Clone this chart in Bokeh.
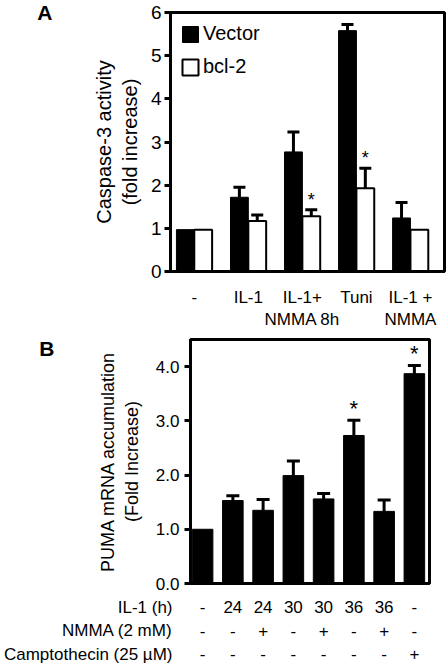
from bokeh.plotting import figure
from bokeh.layouts import column
from bokeh.models import (ColumnDataSource, Whisker, TeeHead, FixedTicker,
                          Legend, LegendItem, LinearAxis, Range1d)
from bokeh.embed import file_html
from bokeh.resources import INLINE
from bokeh.core.properties import value

FONT = "Liberation Sans"

# ---------------- Panel A data ----------------
groups_a = ["-", "IL-1", "IL-1+\nNMMA 8h", "Tuni", "IL-1 +\nNMMA"]
vector_mean = [0.97, 1.72, 2.77, 5.58, 1.24]
vector_err = [0.0, 0.23, 0.46, 0.14, 0.36]
bcl2_mean = [0.97, 1.17, 1.28, 1.93, 0.97]
bcl2_err = [0.0, 0.14, 0.15, 0.46, 0.0]
bcl2_sig = [False, False, True, True, False]
yticks_a = [0, 1, 2, 3, 4, 5, 6]

# ---------------- Panel B data ----------------
il1_row = ["-", "24", "24", "30", "30", "36", "36", "-"]
nmma_row = ["-", "-", "+", "-", "+", "-", "+", "-"]
campto_row = ["-", "-", "-", "-", "-", "-", "-", "+"]
row_titles = ["IL-1 (h)", "NMMA (2 mM)", "Camptothecin (25 \u00b5M)"]
puma_mean = [1.00, 1.53, 1.35, 1.99, 1.56, 2.73, 1.33, 3.87]
puma_err = [0.0, 0.09, 0.20, 0.27, 0.10, 0.28, 0.21, 0.15]
puma_sig = [False, False, False, False, False, True, False, True]
yticks_b = [0, 1, 2, 3, 4]

W = 448


def style_common(p):
    p.xgrid.visible = False
    p.ygrid.visible = False
    p.outline_line_color = "black"
    p.outline_line_width = 3
    p.outline_line_alpha = 1
    p.background_fill_color = "white"
    p.border_fill_color = "white"
    for ax in p.axis:
        ax.axis_line_color = "black"
        ax.axis_line_width = 3
        ax.minor_tick_line_color = None
        ax.major_label_text_font = FONT
        ax.axis_label_text_font = FONT
        ax.axis_label_text_font_style = "normal"
        ax.major_label_text_color = "black"
        ax.axis_label_text_color = "black"


def add_panel_letter(p, letter, standoff):
    p.extra_y_ranges = {"panel": Range1d(0, 1)}
    ax = LinearAxis(y_range_name="panel", ticker=FixedTicker(ticks=[1]),
                    major_label_overrides={1: letter},
                    axis_line_color=None, major_tick_line_color=None,
                    minor_tick_line_color=None,
                    major_label_text_font=FONT,
                    major_label_text_font_style="bold",
                    major_label_text_font_size="21px",
                    major_label_text_color="black",
                    major_label_standoff=standoff)
    p.add_layout(ax, "left")


def add_errors(p, xs, means, errs, size):
    keep = [i for i in range(len(xs)) if errs[i] > 0]
    src = ColumnDataSource(dict(
        base=[xs[i] for i in keep],
        lower=[means[i] for i in keep],
        upper=[means[i] + errs[i] for i in keep],
    ))
    w = Whisker(source=src, base="base", lower="lower", upper="upper",
                line_color="black", line_width=3,
                upper_head=TeeHead(size=size, line_width=3, line_color="black"),
                lower_head=None)
    p.add_layout(w)


def add_stars(p, xs, means, errs, sig, size, lift):
    keep = [i for i in range(len(xs)) if sig[i]]
    p.text(x=[xs[i] for i in keep], y=[means[i] + errs[i] for i in keep],
           text=["*"] * len(keep), text_align="center",
           text_baseline="middle", y_offset=-lift, text_font=value(FONT),
           text_font_size=size, text_color="black")


# ================= Panel A =================
xa = list(range(len(groups_a)))
half = 0.165
x_vec = [x - half for x in xa]
x_bcl = [x + half for x in xa]

p_a = figure(width=W, height=332, x_range=(-0.44, 4.63), y_range=(0, 6),
             output_backend="svg", toolbar_location=None,
             min_border_left=170, min_border_right=4,
             min_border_top=12, min_border_bottom=61)

r_vec = p_a.vbar(x=x_vec, top=vector_mean, width=2 * half, bottom=0,
                 fill_color="black", line_color="black", line_width=1)
r_bcl = p_a.vbar(x=x_bcl, top=bcl2_mean, width=2 * half, bottom=0,
                 fill_color="white", line_color="black", line_width=2)
add_errors(p_a, x_vec, vector_mean, vector_err, 12)
add_errors(p_a, x_bcl, bcl2_mean, bcl2_err, 12)
add_stars(p_a, x_bcl, bcl2_mean, bcl2_err, bcl2_sig, "18px", 10)

style_common(p_a)
p_a.xaxis.ticker = FixedTicker(ticks=xa)
p_a.xaxis.major_label_overrides = {i: g for i, g in enumerate(groups_a)}
p_a.xaxis.major_tick_line_color = None
p_a.xaxis.major_label_text_font_size = "17px"
p_a.xaxis.major_label_standoff = 10

p_a.yaxis.ticker = FixedTicker(ticks=yticks_a)
p_a.yaxis.major_tick_in = 0
p_a.yaxis.major_tick_out = 6
p_a.yaxis.major_tick_line_width = 3
p_a.yaxis.major_label_text_font_size = "19px"
p_a.yaxis.major_label_standoff = 3
p_a.yaxis.axis_label = "Caspase-3 activity\n(fold increase)"
p_a.yaxis.axis_label_text_font_size = "20px"
p_a.yaxis.axis_label_standoff = 7
add_panel_letter(p_a, "A", 31)

legend = Legend(items=[LegendItem(label="Vector", renderers=[r_vec]),
                       LegendItem(label="bcl-2", renderers=[r_bcl])],
                location="top_left", border_line_color=None,
                background_fill_alpha=0, margin=10, padding=4,
                glyph_width=20, glyph_height=20, label_standoff=3,
                spacing=10, label_text_font=FONT,
                label_text_font_size="20px", label_text_color="black")
p_a.add_layout(legend)

# ================= Panel B =================
xb = list(range(len(puma_mean)))
B_LEFT, B_RIGHT = 185, 19
b_xr = Range1d(-0.4, 7.5)
p_b = figure(width=W, height=263, x_range=b_xr, y_range=(0, 4.5),
             output_backend="svg", toolbar_location=None,
             min_border_left=B_LEFT, min_border_right=B_RIGHT,
             min_border_top=7, min_border_bottom=12)
p_b.vbar(x=xb, top=puma_mean, width=0.68, bottom=0,
         fill_color="black", line_color="black")
add_errors(p_b, xb, puma_mean, puma_err, 13)
add_stars(p_b, xb, puma_mean, puma_err, puma_sig, "22px", 12)

style_common(p_b)
p_b.xaxis.visible = False
p_b.yaxis.ticker = FixedTicker(ticks=yticks_b)
p_b.yaxis.major_label_overrides = {t: f"{t:.1f}" for t in yticks_b}
p_b.yaxis.major_tick_in = 0
p_b.yaxis.major_tick_out = 6
p_b.yaxis.major_tick_line_width = 3
p_b.yaxis.major_label_text_font_size = "17px"
p_b.yaxis.major_label_standoff = 5
p_b.yaxis.axis_label = "PUMA mRNA accumulation\n(Fold Increase)"
p_b.yaxis.axis_label_text_font_size = "18px"
p_b.yaxis.axis_label_standoff = 11
add_panel_letter(p_b, "B", 34)

# -------- treatment table under panel B (shares panel B's x range) --------
row_pos = [2, 1, 0]
p_t = figure(width=W, height=69, x_range=b_xr, y_range=(-0.426, 2.51),
             output_backend="svg", toolbar_location=None,
             x_axis_type=None,
             min_border_left=B_LEFT, min_border_right=B_RIGHT,
             min_border_top=0, min_border_bottom=0)
p_t.outline_line_color = None
p_t.xgrid.visible = False
p_t.ygrid.visible = False
p_t.background_fill_color = "white"
p_t.border_fill_color = "white"
p_t.yaxis.ticker = FixedTicker(ticks=row_pos)
p_t.yaxis.major_label_overrides = {r: t for r, t in zip(row_pos, row_titles)}
p_t.yaxis.axis_line_color = None
p_t.yaxis.major_tick_line_color = None
p_t.yaxis.minor_tick_line_color = None
p_t.yaxis.major_label_standoff = 12
p_t.yaxis.major_label_text_font = FONT
p_t.yaxis.major_label_text_font_size = "17px"
p_t.yaxis.major_label_text_color = "black"

rows = [il1_row, nmma_row, campto_row]
lx, ly, lt = [], [], []
for r, vals in enumerate(rows):
    for i, t in enumerate(vals):
        lx.append(xb[i]); ly.append(row_pos[r]); lt.append(t)
p_t.text(x=lx, y=ly, text=lt, text_align="center", text_baseline="middle",
         text_font=value(FONT), text_font_size="17px", text_color="black")

layout = column(column(p_a), column(p_b, p_t), spacing=0)
open("out.html", "w").write(file_html(layout, INLINE))
